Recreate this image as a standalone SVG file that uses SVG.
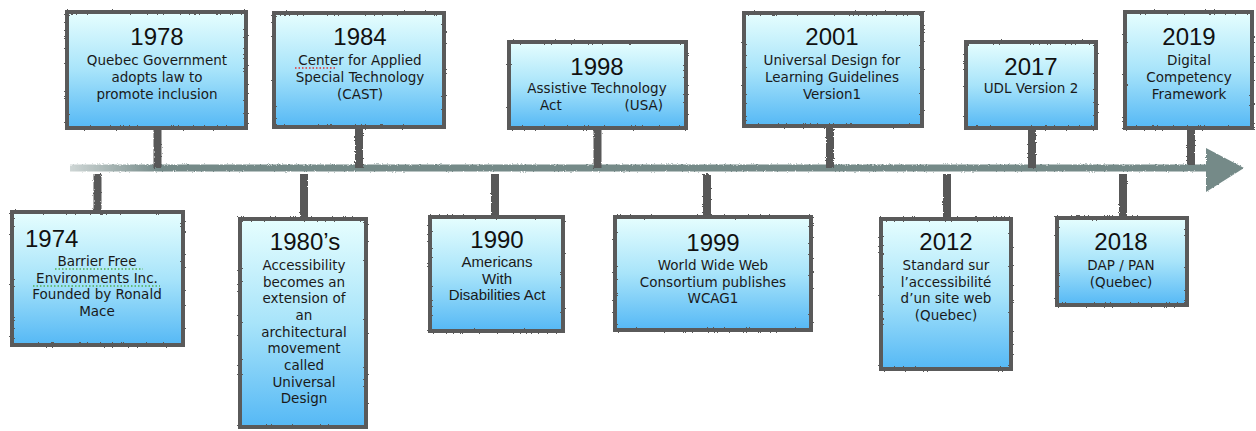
<svg xmlns="http://www.w3.org/2000/svg" width="1256" height="431" viewBox="0 0 1256 431">
<defs>
  <linearGradient id="boxfill" x1="0" y1="0" x2="0" y2="1">
    <stop offset="0" stop-color="#e6fefe"/>
    <stop offset="0.5" stop-color="#a8e4fa"/>
    <stop offset="1" stop-color="#55b8f5"/>
  </linearGradient>
  <linearGradient id="linefade" x1="70" y1="0" x2="1210" y2="0" gradientUnits="userSpaceOnUse">
    <stop offset="0" stop-color="#748a88" stop-opacity="0.35"/>
    <stop offset="0.08" stop-color="#748a88" stop-opacity="1"/>
    <stop offset="1" stop-color="#748a88" stop-opacity="1"/>
  </linearGradient>
  <filter id="rough" filterUnits="userSpaceOnUse" x="0" y="0" width="1256" height="431">
    <feTurbulence type="fractalNoise" baseFrequency="0.9" numOctaves="2" seed="3" result="n"/>
    <feDisplacementMap in="SourceGraphic" in2="n" scale="2.5" xChannelSelector="R" yChannelSelector="G"/>
  </filter>
</defs>
<style>
  .box { fill: url(#boxfill); stroke: #5a5a5a; stroke-width: 4; }
  .frame { fill: none; stroke: #5a5a5a; stroke-width: 4; filter: url(#rough); }
  .yr { font-family: "Liberation Sans", Arial, sans-serif; font-size: 24px; fill: #111; text-anchor: middle; }
  .tx { font-family: "DejaVu Sans", Verdana, sans-serif; font-size: 13.5px; fill: #1a1a1a; text-anchor: middle; }
  .ta { font-family: "Liberation Sans", Arial, sans-serif; font-size: 15px; fill: #1a1a1a; text-anchor: middle; }
  .stem { stroke: #595959; stroke-width: 8; filter: url(#rough); }
  .spellr { stroke: #e03030; stroke-width: 1.5; stroke-dasharray: 1.5 2; }
  .spellg { stroke: #50b050; stroke-width: 1.5; stroke-dasharray: 1.5 2; }
</style>
<rect width="1256" height="431" fill="#ffffff"/>

<g id="connectors">
  <line x1="70" y1="168" x2="1210" y2="168" stroke="url(#linefade)" stroke-width="7" filter="url(#rough)"/>
  <polygon points="1206,148 1244,168 1206,192" fill="#748a88" filter="url(#rough)"/>
  <line class="stem" x1="157.5" y1="130" x2="157.5" y2="168"/>
  <line class="stem" x1="359" y1="128" x2="359" y2="168"/>
  <line class="stem" x1="597.5" y1="130" x2="597.5" y2="168"/>
  <line class="stem" x1="830" y1="127" x2="830" y2="168"/>
  <line class="stem" x1="1032" y1="130" x2="1032" y2="168"/>
  <line class="stem" x1="1191" y1="130" x2="1191" y2="165"/>
  <line class="stem" x1="97.5" y1="174" x2="97.5" y2="211"/>
  <line class="stem" x1="304" y1="174" x2="304" y2="218"/>
  <line class="stem" x1="495" y1="174" x2="495" y2="216"/>
  <line class="stem" x1="707" y1="174" x2="707" y2="216"/>
  <line class="stem" x1="947" y1="174" x2="947" y2="218"/>
  <line class="stem" x1="1123" y1="174" x2="1123" y2="217"/>
</g>

<g id="node-1974">
  <rect class="box" x="12" y="212" width="171" height="133"/>
  <rect class="frame" x="12" y="212" width="171" height="133"/>
  <text class="yr" x="25" y="247" style="text-anchor:start">1974</text>
  <text class="tx" x="97" y="266">Barrier Free</text>
  <text class="tx" x="97" y="283">Environments Inc.</text>
  <text class="tx" x="97" y="299">Founded by Ronald</text>
  <text class="tx" x="97" y="316">Mace</text>
  <line class="spellg" x1="55" y1="269" x2="143" y2="269"/>
  <line class="spellg" x1="33" y1="286" x2="160" y2="286"/>
</g>

<g id="node-1978">
  <rect class="box" x="67" y="12" width="179" height="116"/>
  <rect class="frame" x="67" y="12" width="179" height="116"/>
  <text class="yr" x="157" y="45">1978</text>
  <text class="tx" x="157" y="65">Quebec Government</text>
  <text class="tx" x="157" y="82">adopts law to</text>
  <text class="tx" x="157" y="99">promote inclusion</text>
</g>

<g id="node-1980s">
  <rect class="box" x="240" y="219" width="126" height="208"/>
  <rect class="frame" x="240" y="219" width="126" height="208"/>
  <text class="yr" x="305" y="250">1980’s</text>
  <text class="tx" x="304" y="270">Accessibility</text>
  <text class="tx" x="304" y="287">becomes an</text>
  <text class="tx" x="304" y="303">extension of</text>
  <text class="tx" x="304" y="320">an</text>
  <text class="tx" x="304" y="337">architectural</text>
  <text class="tx" x="304" y="353">movement</text>
  <text class="tx" x="304" y="370">called</text>
  <text class="tx" x="304" y="387">Universal</text>
  <text class="tx" x="304" y="403">Design</text>
</g>

<g id="node-1984">
  <rect class="box" x="274" y="13" width="170" height="114"/>
  <rect class="frame" x="274" y="13" width="170" height="114"/>
  <text class="yr" x="360" y="45">1984</text>
  <text class="tx" x="360" y="65">Center for Applied</text>
  <text class="tx" x="360" y="82">Special Technology</text>
  <text class="tx" x="360" y="99">(CAST)</text>
  <line class="spellr" x1="295" y1="68" x2="337" y2="68"/>
</g>

<g id="node-1990">
  <rect class="box" x="430" y="217" width="133" height="114"/>
  <rect class="frame" x="430" y="217" width="133" height="114"/>
  <text class="yr" x="497" y="248">1990</text>
  <text class="ta" x="497" y="267">Americans</text>
  <text class="ta" x="497" y="284">With</text>
  <text class="ta" x="497" y="300">Disabilities Act</text>
</g>

<g id="node-1998">
  <rect class="box" x="509" y="42" width="177" height="86"/>
  <rect class="frame" x="509" y="42" width="177" height="86"/>
  <text class="yr" x="597" y="75">1998</text>
  <text class="tx" x="597" y="93">Assistive Technology</text>
  <text class="tx" y="110"><tspan x="540" style="text-anchor:start">Act</tspan><tspan x="663" style="text-anchor:end">(USA)</tspan></text>
</g>

<g id="node-1999">
  <rect class="box" x="615" y="217" width="196" height="113"/>
  <rect class="frame" x="615" y="217" width="196" height="113"/>
  <text class="yr" x="713" y="251">1999</text>
  <text class="tx" x="713" y="270">World Wide Web</text>
  <text class="tx" x="713" y="287">Consortium publishes</text>
  <text class="tx" x="713" y="303">WCAG1</text>
</g>

<g id="node-2001">
  <rect class="box" x="744" y="13" width="178" height="113"/>
  <rect class="frame" x="744" y="13" width="178" height="113"/>
  <text class="yr" x="832" y="45">2001</text>
  <text class="tx" x="832" y="65">Universal Design for</text>
  <text class="tx" x="832" y="82">Learning Guidelines</text>
  <text class="tx" x="832" y="99">Version1</text>
</g>

<g id="node-2012">
  <rect class="box" x="881" y="219" width="130" height="150"/>
  <rect class="frame" x="881" y="219" width="130" height="150"/>
  <text class="yr" x="946" y="250">2012</text>
  <text class="tx" x="946" y="270">Standard sur</text>
  <text class="tx" x="946" y="287">l’accessibilité</text>
  <text class="tx" x="946" y="303">d’un site web</text>
  <text class="tx" x="946" y="320">(Quebec)</text>
</g>

<g id="node-2017">
  <rect class="box" x="966" y="42" width="130" height="86"/>
  <rect class="frame" x="966" y="42" width="130" height="86"/>
  <text class="yr" x="1031" y="75">2017</text>
  <text class="tx" x="1031" y="93">UDL Version 2</text>
</g>

<g id="node-2018">
  <rect class="box" x="1057" y="218" width="130" height="87"/>
  <rect class="frame" x="1057" y="218" width="130" height="87"/>
  <text class="yr" x="1121" y="250">2018</text>
  <text class="tx" x="1121" y="270">DAP / PAN</text>
  <text class="tx" x="1121" y="287">(Quebec)</text>
</g>

<g id="node-2019">
  <rect class="box" x="1125" y="12" width="127" height="116"/>
  <rect class="frame" x="1125" y="12" width="127" height="116"/>
  <text class="yr" x="1189" y="45">2019</text>
  <text class="tx" x="1189" y="65">Digital</text>
  <text class="tx" x="1189" y="82">Competency</text>
  <text class="tx" x="1189" y="99">Framework</text>
</g>
</svg>
